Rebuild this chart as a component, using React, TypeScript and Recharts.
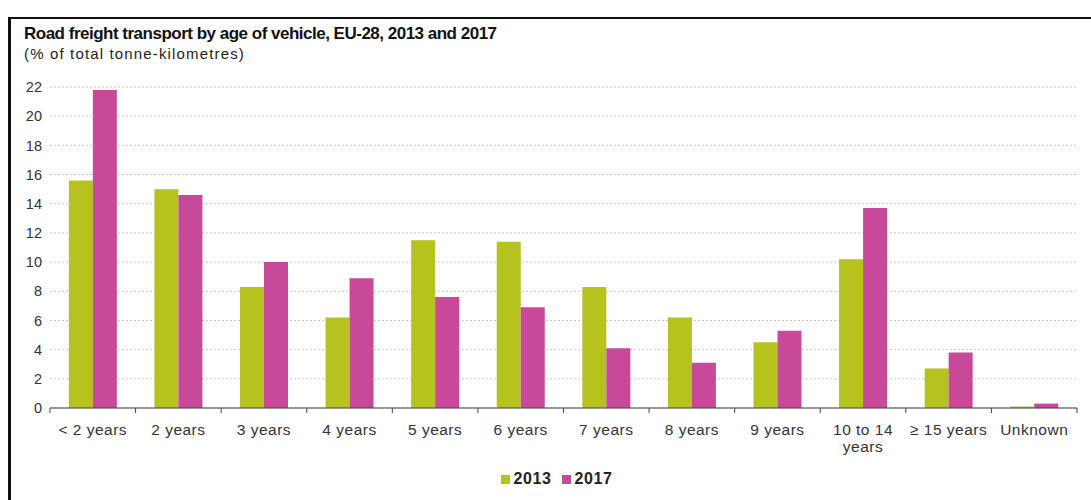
import React from 'react';
import { BarChart, Bar, XAxis, YAxis, CartesianGrid, Legend } from 'recharts';

const categories = ['< 2 years', '2 years', '3 years', '4 years', '5 years', '6 years', '7 years', '8 years', '9 years', '10 to 14 years', '≥ 15 years', 'Unknown'];
const values2013 = [15.6, 15.0, 8.3, 6.2, 11.5, 11.4, 8.3, 6.2, 4.5, 10.2, 2.7, 0.1];
const values2017 = [21.8, 14.6, 10.0, 8.9, 7.6, 6.9, 4.1, 3.1, 5.3, 13.7, 3.8, 0.3];
const yTicks = [0, 2, 4, 6, 8, 10, 12, 14, 16, 18, 20, 22];
const seriesNames = ['2013', '2017'];

const GREEN = '#B6C21E';
const PINK = '#C8489A';

const data = categories.map((c, i) => ({ name: c, v2013: values2013[i], v2017: values2017[i] }));

const FONT = '"Liberation Sans", Arial, sans-serif';

function splitLabel(s: string): string[] {
  if (s.length <= 10) return [s];
  const i = s.lastIndexOf(' ');
  return [s.slice(0, i), s.slice(i + 1)];
}

const CategoryTick = (props: any) => {
  const { x, y, payload, index, visibleTicksCount } = props;
  const half = payload && typeof payload.offset === 'number' ? payload.offset : 42.8;
  const lines = splitLabel(String(payload.value));
  const isLast = index === visibleTicksCount - 1;
  return (
    <g>
      <line x1={x - half} x2={x - half} y1={y} y2={y + 5} stroke="#444" strokeWidth={1} />
      {isLast && <line x1={x + half} x2={x + half} y1={y} y2={y + 5} stroke="#444" strokeWidth={1} />}
      <text x={x} y={y + 27} textAnchor="middle" fill="#333" fontSize={15.5} letterSpacing={0.5} fontFamily={FONT}>
        {lines.map((l, i) => (
          <tspan key={i} x={x} dy={i === 0 ? 0 : 17}>{l}</tspan>
        ))}
      </text>
    </g>
  );
};

export default function App() {
  return (
    <div style={{ position: 'absolute', left: 0, top: 0, width: 1091, height: 500, background: '#fff', overflow: 'hidden' }}>
      <div style={{ position: 'absolute', left: 8, top: 17, width: 1100, height: 500, borderTop: '2px solid #111', borderLeft: '3px solid #111', boxSizing: 'border-box' }} />
      <div style={{ position: 'absolute', left: 24, top: 23, fontFamily: FONT, fontWeight: 'bold', fontSize: 17, letterSpacing: -0.5, color: '#111', whiteSpace: 'nowrap', lineHeight: '21px' }}>
        Road freight transport by age of vehicle, EU-28, 2013 and 2017
      </div>
      <div style={{ position: 'absolute', left: 24, top: 45, fontFamily: FONT, fontSize: 15, letterSpacing: 1.15, color: '#222', whiteSpace: 'nowrap', lineHeight: '17px' }}>
        (% of total tonne-kilometres)
      </div>
      <div style={{ position: 'absolute', left: 0, top: 0 }}>
        <BarChart width={1091} height={500} data={data} margin={{ top: 87, right: 14, left: 0, bottom: 0 }} barCategoryGap="22%" barGap={0}>
          <CartesianGrid vertical={false} stroke="#c8c8c8" strokeDasharray="2 2" />
          <XAxis dataKey="name" height={92} tickLine={false} tickSize={0} tickMargin={0} axisLine={{ stroke: '#444' }} interval={0} tick={<CategoryTick />} />
          <YAxis width={50} domain={[0, 22]} ticks={yTicks} axisLine={false} tickLine={false} tick={{ fill: '#333', fontSize: 14.5, fontFamily: FONT }} />
          <Legend
            verticalAlign="middle"
            align="center"
            iconType="square"
            iconSize={9}
            wrapperStyle={{ position: 'absolute', top: 470, left: 48, width: 1027, fontFamily: FONT, fontSize: 16, fontWeight: 'bold', letterSpacing: 0.6 }}
            formatter={(value: string) => <span style={{ color: '#222', fontWeight: 'bold' }}>{value}</span>}
          />
          <Bar dataKey="v2013" name={seriesNames[0]} fill={GREEN} isAnimationActive={false} />
          <Bar dataKey="v2017" name={seriesNames[1]} fill={PINK} isAnimationActive={false} />
        </BarChart>
      </div>
    </div>
  );
}
